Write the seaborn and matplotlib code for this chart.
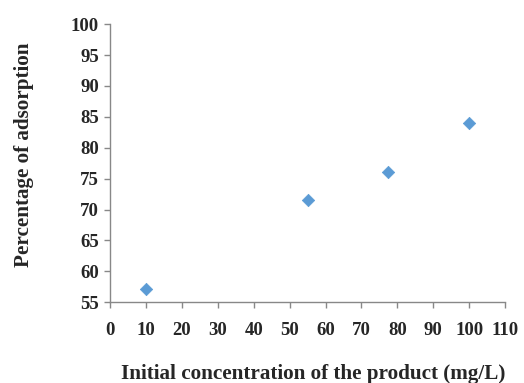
import matplotlib
matplotlib.use("Agg")
import matplotlib.pyplot as plt
import seaborn as sns
import pandas as pd

concentration = [10, 55, 77.5, 100]
adsorption = [57.1, 71.5, 76.0, 84.0]
x_ticks = list(range(0, 111, 10))
y_ticks = list(range(55, 101, 5))

sns.set_style("white")
plt.rcParams['font.family'] = ['Liberation Serif', 'DejaVu Serif']
plt.rcParams['font.weight'] = 'bold'

df = pd.DataFrame({"x": concentration, "y": adsorption})

fig = plt.figure(figsize=(5.24, 3.83), dpi=100)
ax = fig.add_axes([0.21, 0.211, 0.754, 0.726])
sns.scatterplot(data=df, x="x", y="y", ax=ax, marker="D", s=40,
                color="#5B9BD5", edgecolor="#5B9BD5", linewidth=0.5)

ax.set_xlim(0, 110)
ax.set_ylim(55, 100)
ax.set_xticks(x_ticks)
ax.set_yticks(y_ticks)
ax.tick_params(axis='both', labelsize=13.5, direction='out', length=4,
               width=1, color='#888888', left=True, bottom=True)
ax.tick_params(axis='x', pad=10)
ax.tick_params(axis='y', pad=4)
for lab in ax.get_xticklabels() + ax.get_yticklabels():
    lab.set_fontweight('bold')

for s in ['top', 'right']:
    ax.spines[s].set_visible(False)
for s in ['left', 'bottom']:
    ax.spines[s].set_color('#888888')
    ax.spines[s].set_linewidth(1)

ax.set_xlabel("Initial concentration of the product (mg/L)", fontsize=15.2,
              fontweight='bold')
ax.set_ylabel("Percentage of adsorption", fontsize=15.2, fontweight='bold')
ax.xaxis.set_label_coords(0.515, -0.223)
ax.yaxis.set_label_coords(-0.192, 0.532)

fig.savefig("out.png", dpi=100)
